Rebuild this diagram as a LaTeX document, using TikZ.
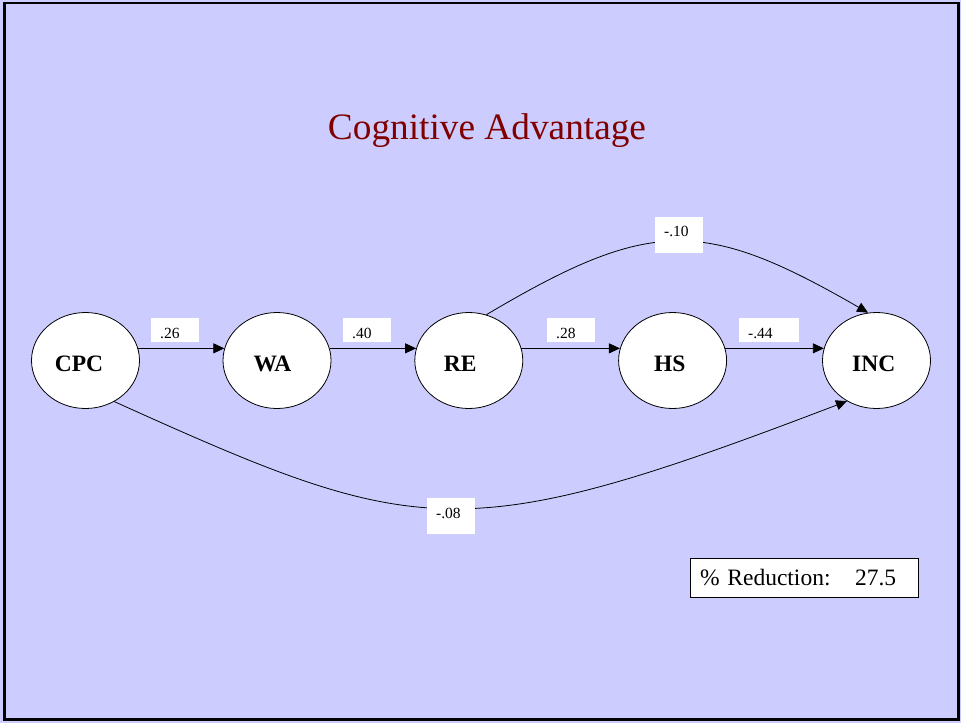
\documentclass[tikz,border=0pt]{standalone}
\usepackage{fontspec}
\setmainfont{Liberation Serif}
\usetikzlibrary{arrows.meta,shapes.geometric}
\definecolor{bg}{RGB}{204,204,255}
\definecolor{titlered}{RGB}{128,0,0}
\begin{document}
\begin{tikzpicture}[x=1pt,y=-1pt,
 var/.style={ellipse,draw=black,line width=0.8pt,fill=white,minimum width=108pt,minimum height=96pt,inner sep=0pt,font=\fontsize{23.5}{24}\selectfont\bfseries,text height=22.4pt,text depth=0pt},
 coef/.style={rectangle,fill=white,anchor=north west,inner xsep=9pt,inner ysep=0pt,align=left,font=\fontsize{15.5}{16}\selectfont,text height=20pt},
 arr/.style={line width=0.8pt,-{Triangle[length=11pt,width=10pt]}}
]
\fill[bg] (0,0) rectangle (961,723);
\useasboundingbox (0,0) rectangle (961,723);
\draw[line width=2.5pt] (4.5,3) rectangle (958.5,719.5);
\node[font=\fontsize{37.3}{38}\selectfont,text=titlered,anchor=base,inner sep=0pt] (title) at (487,139.5) {Cognitive Advantage};
\node[var] (CPC) at (85.5,360.5) {CPC\kern13pt};
\node[var] (WA) at (277,360.5) {WA\kern9pt};
\node[var] (RE) at (468.8,360.5) {RE\kern17pt};
\node[var] (HS) at (672.6,360.5) {HS\kern5.5pt};
\node[var] (INC) at (876.5,360.5) {INC\kern5.5pt};
\draw[arr] (CPC.13) -- (WA.167);
\draw[arr] (WA.13) -- (RE.167);
\draw[arr] (RE.13) -- (HS.167);
\draw[arr] (HS.13) -- (INC.167);
\draw[arr] (RE.69) .. controls (651,217) and (704,218) .. (INC.100);
\draw[arr] (CPC.-55) .. controls (419,539) and (460,549) .. (INC.234);
\node[coef,text width=30pt,text depth=3.7pt] (c1) at (151,318) {.26};
\node[coef,text width=30pt,text depth=3.7pt] (c2) at (343,318) {.40};
\node[coef,text width=30pt,text depth=3.7pt] (c3) at (547,318) {.28};
\node[coef,text width=42pt,text depth=3.7pt] (c4) at (739,318) {-.44};
\node[coef,text width=30pt,text depth=16pt] (c5) at (655,216.7) {-.10};
\node[coef,text width=30pt,text depth=15.7pt] (c6) at (427,498) {-.08};
\node[draw=black,line width=0.8pt,fill=white,anchor=north west,inner xsep=9.6pt,inner ysep=0pt,text width=208.8pt,align=left,text height=27pt,text depth=11.5pt,font=\fontsize{23.5}{24}\selectfont] (red) at (690,558) {\%~Reduction:\hspace{24.5pt}27.5};
\end{tikzpicture}
\end{document}
